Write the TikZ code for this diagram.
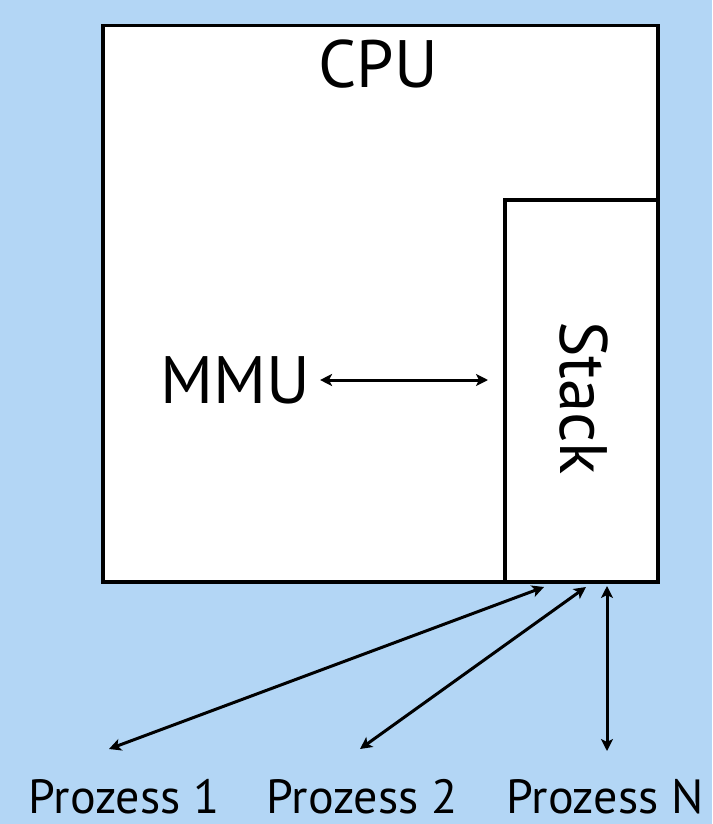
\documentclass[tikz,border=0pt]{standalone}
\usepackage{fontspec}
\setmainfont{PT Sans}
\usetikzlibrary{arrows.meta}
\definecolor{bgblue}{RGB}{179,214,245}

\tikzset{
  box/.style={draw=black, line width=3.5pt, fill=white, inner sep=0pt},
  link/.style={line width=3pt, {Stealth[length=12pt,width=12pt,inset=3pt]}-{Stealth[length=12pt,width=12pt,inset=3pt]}},
  lbl/.style={font=\fontsize{67}{70}\selectfont, inner sep=0pt},
  plbl/.style={font=\fontsize{48}{50}\selectfont, inner sep=0pt},
}

\begin{document}
\begin{tikzpicture}[x=1pt,y=1pt,yscale=-1]
  \fill[bgblue] (0,0) rectangle (712,824);
  \useasboundingbox (0,0) rectangle (712,824);
  %CPU box and stack
  \node[box, minimum width=555pt, minimum height=556pt, anchor=north west] (cpu) at (101,24) {};
  \node[box, minimum width=153pt, minimum height=382pt, anchor=north west] (stack) at (503,198) {};
  \node[lbl] (cputxt) at (378,64) {CPU};
  \node[lbl, rotate=-90] (stacktxt) at (584,398) {Stack};
  \node[lbl] (mmu) at (235,380) {MMU};
  \draw[link, shorten <=10pt, shorten >=15pt] (mmu.east) -- (mmu.east -| stack.west);
  %processes
  \node[plbl] (p1) at (124,797) {Prozess 1};
  \node[plbl] (p2) at (362,797) {Prozess 2};
  \node[plbl] (pn) at (605,797) {Prozess N};
  \coordinate (t1) at (109,749);
  \coordinate (t2) at (360,749);
  \coordinate (tn) at (607,751);
  \coordinate (s1) at (544,587);
  \coordinate (s2) at (586,587);
  \coordinate (sn) at (607,586);
  \draw[link] (s1) -- (t1);
  \draw[link] (s2) -- (t2);
  \draw[link] (sn) -- (tn);
\end{tikzpicture}
\end{document}
